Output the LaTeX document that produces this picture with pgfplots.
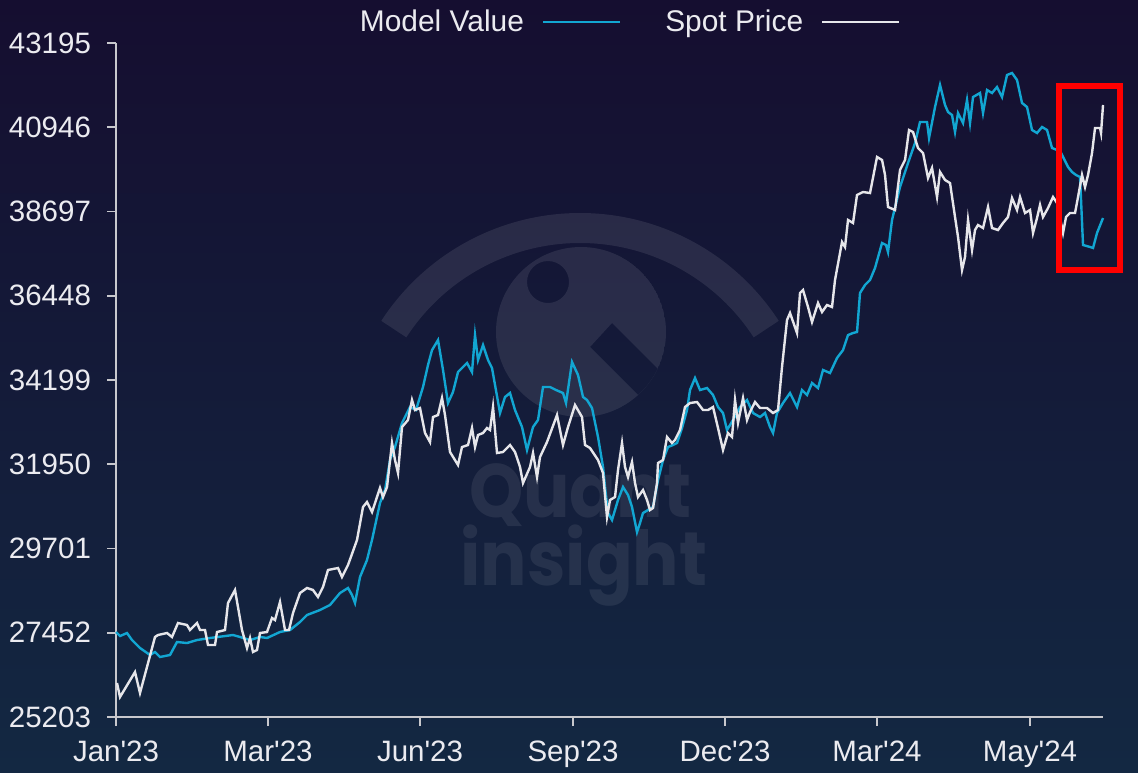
\documentclass[border=0pt]{standalone}
\usepackage{pgfplots}
\pgfplotsset{compat=1.18}
\usepackage{fontspec}
\setmainfont{Liberation Sans}
\newfontfamily\lsans{Liberation Sans}
\newfontfamily\wmfont{Poppins}
\definecolor{bgtop}{RGB}{21,14,48}
\definecolor{bgbot}{RGB}{19,40,66}
\definecolor{cyanline}{RGB}{18,166,210}
\definecolor{whiteline}{RGB}{230,230,234}
\definecolor{axgray}{RGB}{200,200,205}
\definecolor{txt}{RGB}{235,235,240}

\pgfplotstableread{
x y
0 27472
4 27365
11 27445
16 27258
24 27045
34 26858
39 26938
44 26805
54 26858
61 27205
71 27178
81 27258
94 27312
117 27392
124 27339
134 27258
144 27339
151 27312
164 27472
174 27525
184 27739
191 27926
204 28059
214 28193
224 28513
232 28647
236 28460
239 28246
244 28940
251 29394
256 29928
264 30915
269 31263
274 32063
279 32410
286 33051
294 33478
300 33398
307 34012
312 34599
316 34998
322 35265
327 34466
332 33585
337 33879
342 34412
351 34653
356 34412
359 35398
362 34733
367 35133
372 34733
376 34519
384 33318
389 33745
394 33852
399 33398
406 32944
411 32330
417 32944
422 33131
427 34012
434 34012
440 33932
447 33852
450 33585
456 34679
462 34332
467 33745
471 33665
476 33451
482 32677
487 31877
489 31343
492 30649
496 30462
502 30996
507 31343
512 31129
516 30809
521 30142
524 30382
527 30649
532 30729
537 30809
542 31529
547 32063
552 32410
557 32464
561 32517
566 32918
571 33398
574 33932
579 34252
584 33932
591 33985
597 33799
602 33478
607 33318
611 32864
617 33131
624 33478
631 33665
637 33318
644 33211
649 33318
654 32944
657 32784
661 33318
667 33585
674 33852
681 33478
686 33932
691 33799
696 34119
702 33985
707 34466
714 34386
721 34786
727 34998
732 35398
737 35454
741 35480
744 36521
749 36735
754 36868
759 37189
766 37856
770 37803
772 37616
776 38470
784 39351
792 39991
799 40525
804 41086
811 41086
813 40659
819 41486
824 42074
829 41540
832 41353
836 41273
839 40819
842 41326
847 41059
851 41673
854 41059
857 41753
864 41860
867 41326
871 41940
876 41860
881 42020
886 41753
891 42340
896 42394
901 42207
906 41593
911 41486
916 40872
921 40792
926 40952
931 40872
936 40392
941 40339
945 40259
952 39885
956 39751
960 39671
964 39618
967 37803
974 37750
977 37723
981 38123
987 38523
}\modeltable

\pgfplotstableread{
x y
1 26111
4 25737
19 26404
24 25844
31 26538
39 27339
42 27392
51 27445
56 27339
62 27712
71 27659
74 27525
81 27712
84 27525
89 27525
92 27125
99 27125
101 27472
109 27525
112 28246
119 28593
126 27525
131 27045
134 27312
137 26938
141 26991
144 27445
151 27472
156 27846
159 27792
164 28273
169 27525
173 27525
177 27979
184 28513
191 28647
197 28593
202 28406
207 28673
212 29127
222 29180
226 28940
232 29260
241 29928
247 30809
251 30942
256 30675
264 31316
267 31076
271 31343
276 32517
279 32063
282 31716
286 32944
292 33131
296 33665
299 33398
304 33451
309 32784
314 32544
317 33211
322 33264
326 33718
329 33264
334 32277
342 31930
346 32410
352 32464
356 32918
359 32410
362 32731
367 32784
371 32918
374 32864
377 33478
381 32250
387 32277
394 32464
399 32277
404 31877
407 31449
414 31877
417 32250
421 31610
424 32143
431 32544
441 33263
447 32464
452 32944
459 33531
466 33211
469 32464
474 32384
482 32063
487 31716
491 30542
494 30996
499 31076
502 31797
506 32517
509 31877
512 31610
516 32010
519 31449
522 31076
527 31263
531 30996
534 30729
537 30782
541 31449
542 31983
547 32063
551 32677
556 32517
559 32597
564 32864
569 33478
574 33585
581 33611
587 33398
592 33398
597 33478
602 32918
607 32330
612 32784
616 32677
619 33665
622 33051
627 33718
631 33131
634 33345
639 33611
644 33451
651 33451
657 33318
662 33398
666 34546
671 35801
674 35987
681 35454
684 36521
687 36601
692 36147
696 35747
702 36254
706 36014
711 36201
716 36147
719 36868
726 37883
729 37750
732 38470
737 38390
741 39137
747 39217
754 39190
761 40152
766 40072
769 39671
772 38817
779 38737
784 39805
789 40072
793 40872
797 40819
802 40392
807 40259
812 39591
816 39858
821 39084
824 39751
829 39538
834 39457
839 38550
842 38016
846 37135
849 37482
852 38470
856 37669
859 38203
862 38336
867 38256
872 38817
876 38256
882 38203
887 38390
892 38550
896 39057
901 38737
904 39084
909 38657
914 38737
917 38123
921 38523
924 38870
927 38550
932 38790
937 39084
941 38924
947 38123
950 38550
954 38657
959 38657
962 39084
966 39671
969 39351
972 39671
976 40258
979 40926
984 40926
985 40792
987 41540
}\spottable

\begin{document}
\begin{tikzpicture}[x=1bp,y=1bp]
\useasboundingbox (0,0) rectangle (569,386);
\shade[top color=bgtop, bottom color=bgbot] (0,0) rectangle (569,386);
% watermark
\draw[white, draw opacity=0.09, line width=15bp] (290,161) ++(33:111bp) arc (33:147:111bp);
\begin{scope}
\clip (290.5,220) circle (42.5bp);
\fill[white, fill opacity=0.09, even odd rule] (290.5,220) circle (42.5bp) (274,245) circle (10.5bp) (295,212.5) -- (306,224.5) -- (334.5,196) -- (323.5,184) -- cycle;
\end{scope}
\node[anchor=base, text=white, text opacity=0.08, font=\wmfont\bfseries\fontsize{38}{42}\selectfont, inner sep=0pt] at (290,127.5) {\scalebox{0.91}[1]{Quant}};
\node[anchor=base, text=white, text opacity=0.08, font=\wmfont\bfseries\fontsize{38}{42}\selectfont, inner sep=0pt] at (292,93.5) {\scalebox{0.91}[1]{insight}};

\begin{axis}[
  at={(58bp,27.5bp)}, anchor=south west,
  scale only axis, width=493.5bp, height=337bp,
  xmin=0, xmax=987, ymin=25203, ymax=43195,
  clip=false,
  scaled y ticks=false, scaled x ticks=false,
  axis x line*=bottom, axis y line*=left,
  axis line style={axgray, line width=1.1bp},
  tick align=outside,
  major tick length=4.5bp,
  tick style={axgray, line width=0.8bp},
  xtick={0,152,304,457,609,761,914},
  xticklabels={Jan'23,Mar'23,Jun'23,Sep'23,Dec'23,Mar'24,May'24},
  ytick={25203,27452,29701,31950,34199,36448,38697,40946,43195},
  yticklabels={25203,27452,29701,31950,34199,36448,38697,40946,43195},
  ticklabel style={font=\lsans\fontsize{14.8}{17}\selectfont, text=txt},
  yticklabel style={xshift=-4.5bp},
  xticklabel style={yshift=-4bp},
  legend style={at={(0.519,1.031)}, anchor=center, draw=none, fill=none,
    legend columns=2, font=\lsans\fontsize{15}{17}\selectfont, text=txt,
    /tikz/every even column/.append style={column sep=20bp}},
  legend plot pos=right,
  legend image code/.code={\path (0bp,0bp); \draw[#1] (7bp,0bp) -- (45.5bp,0bp);},
]
\addplot[cyanline, line width=1.2bp] table[x=x,y=y] {\modeltable};
\addlegendentry{Model Value}
\addplot[whiteline, line width=1.2bp] table[x=x,y=y] {\spottable};
\addlegendentry{Spot Price}
\draw[red, line width=2.85bp] (axis cs:943,37135) rectangle (axis cs:1004,42047);
\end{axis}
\end{tikzpicture}
\end{document}
